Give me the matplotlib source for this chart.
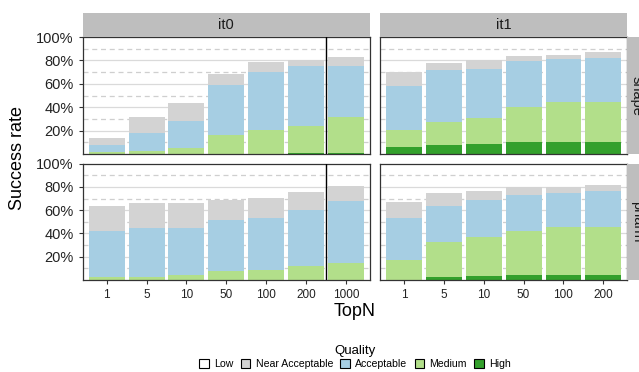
import matplotlib
matplotlib.use("Agg")
import matplotlib.pyplot as plt
import matplotlib.patches as mpatches
import numpy as np

plt.rcParams['font.family'] = ['Liberation Sans', 'DejaVu Sans']

topn_it0 = ["1", "5", "10", "50", "100", "200", "1000"]
topn_it1 = ["1", "5", "10", "50", "100", "200"]
qualities = ["Low", "Near Acceptable", "Acceptable", "Medium", "High"]
colors = {"Low": "white", "Near Acceptable": "#D3D3D3", "Acceptable": "#A6CEE3",
          "Medium": "#B2DF8A", "High": "#33A02C"}

# segment heights in percent, bottom to top: High, Medium, Acceptable, Near Acceptable
shape_it0_high = [0, 0, 0, 0, 0, 1, 1]
shape_it0_medium = [1.4, 2.8, 4.8, 16.2, 20.2, 23.2, 30.4]
shape_it0_acceptable = [6.3, 15.2, 23.2, 43.0, 50.2, 51.3, 44.1]
shape_it0_near = [6.0, 13.9, 16.0, 9.4, 8.2, 4.8, 7.1]

shape_it1_high = [6.3, 8.0, 8.8, 10.0, 10.0, 10.0]
shape_it1_medium = [13.9, 19.4, 22.2, 30.2, 34.4, 34.4]
shape_it1_acceptable = [37.9, 44.4, 41.6, 39.3, 36.5, 37.4]
shape_it1_near = [11.9, 6.0, 7.5, 4.3, 4.0, 5.1]

pharm_it0_high = [0, 0, 0, 0, 0, 0, 0]
pharm_it0_medium = [2.6, 2.6, 4.0, 7.7, 8.9, 12.0, 14.6]
pharm_it0_acceptable = [39.5, 42.1, 40.7, 43.9, 44.4, 48.5, 53.0]
pharm_it0_near = [21.5, 21.2, 21.2, 17.2, 17.5, 15.4, 13.2]

pharm_it1_high = [0, 2.6, 3.7, 4.6, 4.6, 4.6]
pharm_it1_medium = [17.2, 30.3, 33.0, 37.5, 40.7, 40.7]
pharm_it1_acceptable = [36.1, 30.7, 32.1, 30.7, 29.5, 31.0]
pharm_it1_near = [13.5, 11.5, 8.0, 7.4, 5.4, 5.6]

facets = {
    ("shape", "it0"): (topn_it0, [shape_it0_high, shape_it0_medium, shape_it0_acceptable, shape_it0_near]),
    ("shape", "it1"): (topn_it1, [shape_it1_high, shape_it1_medium, shape_it1_acceptable, shape_it1_near]),
    ("pharm", "it0"): (topn_it0, [pharm_it0_high, pharm_it0_medium, pharm_it0_acceptable, pharm_it0_near]),
    ("pharm", "it1"): (topn_it1, [pharm_it1_high, pharm_it1_medium, pharm_it1_acceptable, pharm_it1_near]),
}
stack_order = ["High", "Medium", "Acceptable", "Near Acceptable"]

W, H = 639, 372
fig = plt.figure(figsize=(W / 100, H / 100), dpi=100)

def px_axes(x0, y0, x1, y1):
    # pixel box (top-left origin) -> figure axes
    return fig.add_axes([x0 / W, 1 - y1 / H, (x1 - x0) / W, (y1 - y0) / H])

col_x = {"it0": (82.7, 370), "it1": (380, 627.3)}
row_y = {"shape": (37, 154), "pharm": (163.7, 280)}
border = "#333333"

for (row, col), (labels, segs) in facets.items():
    x0, x1 = col_x[col]
    y0, y1 = row_y[row]
    ax = px_axes(x0, y0, x1, y1)
    n = len(labels)
    x = np.arange(1, n + 1)
    for yv in [20, 40, 60, 80]:
        ax.axhline(yv, color="#DADADA", lw=0.9, zorder=0)
    for yv in [10, 30, 50, 70, 90]:
        ax.axhline(yv, color="#CFCFCF", lw=0.9, ls=(0, (4, 3)), zorder=0.5)
    bottom = np.zeros(n)
    for q, vals in zip(stack_order, segs):
        ax.bar(x, vals, width=0.9, bottom=bottom, color=colors[q], lw=0, zorder=2)
        bottom += np.array(vals)
    if col == "it0":
        ax.axvline(6.5, color="black", lw=1.0, zorder=3)
    ax.set_xlim(0.4, n + 0.6)
    ax.set_ylim(0, 100)
    for s in ax.spines.values():
        s.set_color(border)
        s.set_linewidth(0.9)
    ax.tick_params(colors=border, length=3, width=0.8)
    ax.set_xticks(x)
    if row == "pharm":
        ax.set_xticklabels(labels, fontsize=8.5, color="#222222")
    else:
        ax.tick_params(axis="x", length=0)
        ax.set_xticklabels([])
    ax.set_yticks([20, 40, 60, 80, 100])
    if col == "it0":
        ax.set_yticklabels(["20%", "40%", "60%", "80%", "100%"], fontsize=10.5, color="#222222")
    else:
        ax.tick_params(axis="y", length=0)
        ax.set_yticklabels([])

# top strips
for col, (x0, x1) in col_x.items():
    sa = px_axes(x0, 13.3, x1, 37)
    sa.set_facecolor("#BEBEBE")
    sa.set_xticks([]); sa.set_yticks([])
    for s in sa.spines.values():
        s.set_visible(False)
    sa.text(0.5, 0.5, col, ha="center", va="center", fontsize=10.5, color="#1A1A1A",
            transform=sa.transAxes)

# right strips (cut off by figure edge, as in the original)
for row, (y0, y1) in row_y.items():
    sa = px_axes(627.3, y0, 652, y1)
    sa.set_facecolor("#BEBEBE")
    sa.set_xticks([]); sa.set_yticks([])
    for s in sa.spines.values():
        s.set_visible(False)
    sa.text(637 / W, 1 - (y0 + y1) / 2 / H, row, ha="center", va="center", fontsize=10.5,
            color="#1A1A1A", rotation=-90, transform=fig.transFigure)

fig.text(18 / W, 1 - 158 / H, "Success rate", rotation=90, ha="center", va="center", fontsize=13)
fig.text(355 / W, 1 - 311 / H, "TopN", ha="center", va="center", fontsize=13)

handles = [mpatches.Patch(facecolor=colors[q], edgecolor="black", lw=0.8, label=q) for q in qualities]
leg = fig.legend(handles=handles, loc="center", bbox_to_anchor=(355 / W, 1 - 357 / H), ncol=5,
                 frameon=False, fontsize=7.6, title="Quality", title_fontsize=9.5,
                 handlelength=0.9, handleheight=0.9, handletextpad=0.5, columnspacing=0.7,
                 borderpad=0.1, labelspacing=0.2)

fig.savefig("out.png", dpi=100)
